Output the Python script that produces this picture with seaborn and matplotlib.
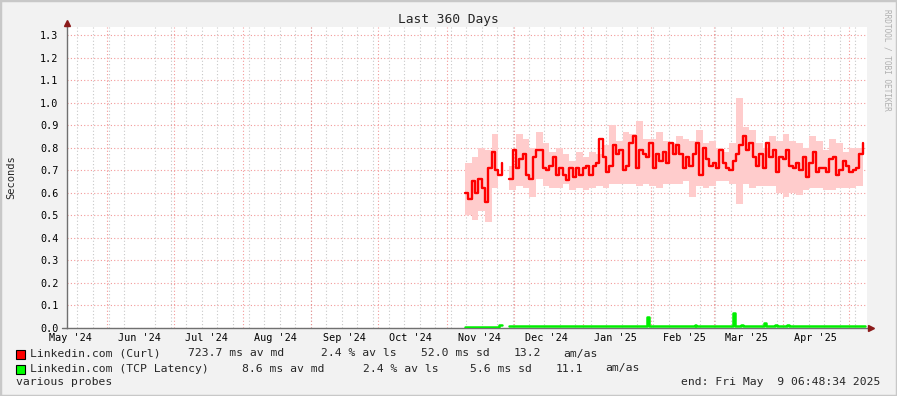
import numpy as np
import pandas as pd
import matplotlib
matplotlib.use("Agg")
import matplotlib.pyplot as plt
import matplotlib.dates as mdates
from matplotlib.patches import Rectangle
import seaborn as sns

# ---------------- data ----------------
start = pd.Timestamp("2024-05-14 06:48:34")
end = pd.Timestamp("2025-05-09 06:48:34")

seg1_start_day = 179.1
seg2_start_day = 199.0

curl_seg1 = [0.60, 0.57, 0.65, 0.60, 0.66, 0.62, 0.56, 0.71, 0.78, 0.70, 0.68, 0.73]
curl_seg2 = [
    0.66, 0.79, 0.71, 0.75, 0.77, 0.68, 0.66, 0.76, 0.79, 0.79, 0.71, 0.70, 0.72, 0.76, 0.68, 0.71, 0.68,
    0.655, 0.71, 0.67, 0.71, 0.68, 0.71, 0.72, 0.68, 0.72, 0.73, 0.84, 0.76, 0.69, 0.72, 0.81, 0.77, 0.79,
    0.70, 0.72, 0.82, 0.85, 0.71, 0.79, 0.77, 0.76, 0.82, 0.71, 0.77, 0.74, 0.78,
    0.73, 0.82, 0.77, 0.81, 0.77, 0.71, 0.76, 0.72, 0.77, 0.82, 0.68, 0.80, 0.75, 0.72, 0.73, 0.71, 0.79,
    0.73, 0.71, 0.70, 0.74, 0.77, 0.81, 0.85, 0.79, 0.82, 0.76, 0.72, 0.77, 0.71,
    0.82, 0.76, 0.79, 0.69, 0.76, 0.75, 0.79, 0.72, 0.71, 0.73, 0.70, 0.76, 0.67, 0.73, 0.78, 0.69, 0.71,
    0.71, 0.69, 0.75, 0.76, 0.68, 0.70, 0.74, 0.72, 0.69, 0.70, 0.71, 0.77, 0.82,
]

smoke1_high = [0.73, 0.76, 0.80, 0.79, 0.86, 0.81]
smoke1_low = [0.50, 0.48, 0.52, 0.47, 0.62, 0.62]
smoke2_high = [
    0.72, 0.86, 0.84, 0.80, 0.87, 0.82, 0.78, 0.80, 0.77,
    0.74, 0.78, 0.76, 0.78, 0.77, 0.81, 0.90, 0.83, 0.87, 0.86, 0.92, 0.84, 0.84, 0.87, 0.83,
    0.82, 0.85, 0.84, 0.83, 0.88, 0.82, 0.83, 0.80, 0.78, 0.82, 1.02, 0.89, 0.88, 0.82, 0.80,
    0.85, 0.83, 0.86, 0.83, 0.82, 0.80, 0.85, 0.83, 0.79, 0.84, 0.82, 0.78, 0.80, 0.80, 0.91,
]
smoke2_low = [
    0.61, 0.63, 0.62, 0.58, 0.66, 0.63, 0.62, 0.62, 0.64,
    0.61, 0.62, 0.61, 0.62, 0.63, 0.62, 0.64, 0.64, 0.64, 0.64, 0.63, 0.64, 0.63, 0.62, 0.64,
    0.64, 0.64, 0.65, 0.58, 0.63, 0.62, 0.63, 0.65, 0.65, 0.64, 0.55, 0.64, 0.62, 0.63, 0.63,
    0.63, 0.60, 0.58, 0.60, 0.59, 0.61, 0.62, 0.62, 0.61, 0.61, 0.62, 0.62, 0.62, 0.63, 0.66,
]

tcp_seg1_days = [179.1, 194.4, 195.8]
tcp_seg1_vals = [0.004, 0.009, 0.009]
tcp_seg2_days = [199.0, 260.8, 261.7, 282.4, 283.1, 299.7, 300.6, 303.3, 304.2,
                 313.6, 314.5, 318.8, 319.5, 324.0, 324.9, 359.1]
tcp_seg2_vals = [0.008, 0.045, 0.008, 0.011, 0.008, 0.065, 0.008, 0.012, 0.008,
                 0.020, 0.008, 0.012, 0.008, 0.012, 0.008, 0.008]

legend_curl = ["Linkedin.com (Curl)", "723.7 ms av md", "2.4 % av ls", "52.0 ms sd", "13.2", "am/as"]
legend_tcp = ["Linkedin.com (TCP Latency)", "8.6 ms av md", "2.4 % av ls", "5.6 ms sd", "11.1", "am/as"]

# ---------------- build frames ----------------
def times_from(day0, n, step_hours):
    return start + pd.to_timedelta(day0, unit="D") + pd.to_timedelta(np.arange(n) * step_hours, unit="h")

c1 = pd.DataFrame({"t": times_from(seg1_start_day, len(curl_seg1), 36), "v": curl_seg1})
c2 = pd.DataFrame({"t": times_from(seg2_start_day, len(curl_seg2), 36), "v": curl_seg2})
s1 = pd.DataFrame({"t": times_from(seg1_start_day, len(smoke1_high), 72), "hi": smoke1_high, "lo": smoke1_low})
s2 = pd.DataFrame({"t": times_from(seg2_start_day, len(smoke2_high), 72), "hi": smoke2_high, "lo": smoke2_low})
g1 = pd.DataFrame({"t": start + pd.to_timedelta(tcp_seg1_days, unit="D"), "v": tcp_seg1_vals})
g2 = pd.DataFrame({"t": start + pd.to_timedelta(tcp_seg2_days, unit="D"), "v": tcp_seg2_vals})

# ---------------- figure ----------------
sns.set_theme(style="white")
plt.rcParams["font.family"] = ["DejaVu Sans Mono", "DejaVu Sans"]

W, H = 897, 396
fig = plt.figure(figsize=(W / 100, H / 100), dpi=100)
fig.patch.set_facecolor("#f2f2f2")
ax = fig.add_axes([67 / W, (H - 327.5) / H, 800 / W, 300.2 / H])
ax.set_facecolor("white")

# smoke
for s in (s1, s2):
    ax.fill_between(s["t"], s["lo"], s["hi"], step="post", color="#ffcccc", lw=0, zorder=2)

# median lines
for c in (c1, c2):
    sns.lineplot(data=c, x="t", y="v", ax=ax, color="#ff0000", lw=1.7,
                 drawstyle="steps-post", zorder=4, legend=False)
for g in (g1, g2):
    sns.lineplot(data=g, x="t", y="v", ax=ax, color="#00ee00", lw=1.8,
                 drawstyle="steps-post", zorder=4, legend=False)

ax.set_xlim(start, end)
ax.set_ylim(0, 1.3355)

# grid: y
ax.yaxis.set_major_locator(matplotlib.ticker.MultipleLocator(0.1))
ax.yaxis.set_major_formatter(matplotlib.ticker.FormatStrFormatter("%.1f"))
ax.grid(axis="y", which="major", color="#f08080", ls=(0, (1, 2)), lw=0.8, alpha=0.8, zorder=0)

# grid: x weekly minor, monthly red, labels mid month
ax.xaxis.set_minor_locator(mdates.WeekdayLocator(byweekday=mdates.SU))
ax.xaxis.set_major_locator(mdates.DayLocator(bymonthday=16))
ax.xaxis.set_major_formatter(mdates.DateFormatter("%b '%y"))
ax.grid(axis="x", which="minor", color="#c8c8c8", ls=(0, (1, 2)), lw=0.8, zorder=0)
for m in pd.date_range(start, end, freq="MS"):
    ax.axvline(m, color="#f08080", ls=(0, (1, 2)), lw=0.8, alpha=0.8, zorder=1)

ax.tick_params(axis="x", which="both", length=0, pad=4, labelsize=7.3, colors="#000000")
ax.tick_params(axis="y", which="major", length=4, width=0.8, color="#f0a0a0", pad=2,
               labelsize=7.3, colors="#000000")
ax.tick_params(axis="y", colors="#f0a0a0", labelcolor="#000000")
for lab in ax.get_xticklabels() + ax.get_yticklabels():
    lab.set_family("DejaVu Sans Mono")

ax.set_xlabel("")
ax.set_ylabel("")
for sp in ("top", "right"):
    ax.spines[sp].set_visible(False)
ax.spines["left"].set_color("#707070")
ax.spines["bottom"].set_color("#707070")
ax.spines["left"].set_linewidth(1.0)
ax.spines["bottom"].set_linewidth(1.0)

# axis arrows
ax.plot([0], [1.015], marker="^", ms=4.5, color="#8b1a1a", transform=ax.transAxes, clip_on=False, zorder=6)
ax.plot([0, 0], [1.0, 1.012], color="#707070", lw=1.0, transform=ax.transAxes, clip_on=False)
ax.plot([1.005], [0], marker=">", ms=4.5, color="#8b1a1a", transform=ax.transAxes, clip_on=False, zorder=6)
ax.plot([-0.006, 0], [0, 0], color="#707070", lw=1.0, transform=ax.transAxes, clip_on=False)

# ---------------- texts ----------------
def ft(x, y, s, **kw):
    fig.text(x / W, 1 - y / H, s, va="center", family="DejaVu Sans Mono", **kw)

ft(448, 19, "Last 360 Days", ha="center", fontsize=9.3)
ft(11, 177, "Seconds", ha="center", fontsize=7.5, rotation=90)
ft(887, 60, "RRDTOOL / TOBI OETIKER", ha="center", fontsize=5.6, rotation=-90, color="#b0b0b0")

legend_x1 = [30, 187.7, 321, 421, 514, 563]
legend_x2 = [30, 241.7, 362.7, 470, 556, 605]
for txt, x in zip(legend_curl, legend_x1):
    ft(x, 353.5, txt, ha="left", fontsize=8.2)
for txt, x in zip(legend_tcp, legend_x2):
    ft(x, 368.5, txt, ha="left", fontsize=8.2)
ft(16, 382, "various probes", ha="left", fontsize=8.2)
ft(880.5, 382, "end: Fri May  9 06:48:34 2025", ha="right", fontsize=8.2)

fig.patches.append(Rectangle((15.5 / W, 1 - 358.5 / H), 9 / W, 9 / H, transform=fig.transFigure,
                             facecolor="#ff0000", edgecolor="#000000", lw=0.8))
fig.patches.append(Rectangle((15.5 / W, 1 - 373.5 / H), 9 / W, 9 / H, transform=fig.transFigure,
                             facecolor="#00ff00", edgecolor="#000000", lw=0.8))

# frame
fig.patches.append(Rectangle((0, 0), 1, 1, transform=fig.transFigure, fill=False,
                             edgecolor="#c8c8c8", lw=2.5))

fig.savefig("out.png", dpi=100, facecolor=fig.get_facecolor())
